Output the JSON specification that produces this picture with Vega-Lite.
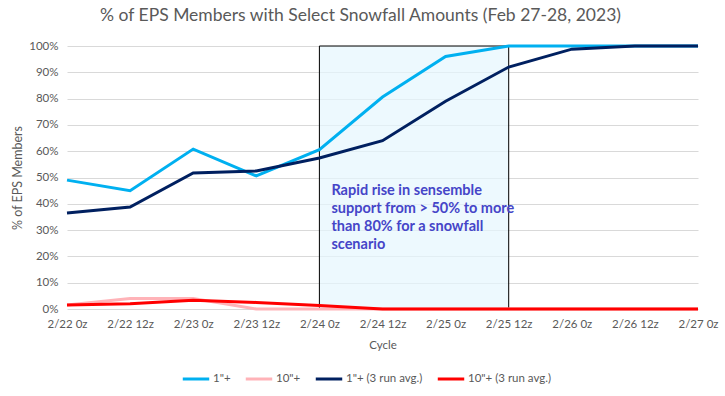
{
  "$schema": "https://vega.github.io/schema/vega-lite/v6.json",
  "autosize": {"type": "none"},
  "width": 631,
  "height": 263,
  "padding": {"left": 67, "top": 46, "right": 27, "bottom": 87},
  "background": "white",
  "config": {
    "font": "Lato",
    "view": {"stroke": null},
    "axis": {"labelColor": "#595959", "titleColor": "#595959", "labelFont": "Lato", "titleFont": "Lato", "labelFontSize": 11.5, "titleFontSize": 11.5, "titleFontWeight": "normal"},
    "legend": {"labelFont": "Lato", "labelColor": "#595959", "labelFontSize": 11.5}
  },
  "title": {"text": "% of EPS Members with Select Snowfall Amounts (Feb 27-28, 2023)", "fontSize": 17.5, "fontWeight": "normal", "color": "#595959", "font": "Lato", "offset": 16, "anchor": "middle", "dx": -22},
  "datasets": {
    "series": [
      {"cycle": "2/22 0z", "series": "1\"+", "value": 49},
      {"cycle": "2/22 12z", "series": "1\"+", "value": 45},
      {"cycle": "2/23 0z", "series": "1\"+", "value": 60.8},
      {"cycle": "2/23 12z", "series": "1\"+", "value": 50.6},
      {"cycle": "2/24 0z", "series": "1\"+", "value": 60.6},
      {"cycle": "2/24 12z", "series": "1\"+", "value": 80.6},
      {"cycle": "2/25 0z", "series": "1\"+", "value": 96},
      {"cycle": "2/25 12z", "series": "1\"+", "value": 100},
      {"cycle": "2/26 0z", "series": "1\"+", "value": 100},
      {"cycle": "2/26 12z", "series": "1\"+", "value": 100},
      {"cycle": "2/27 0z", "series": "1\"+", "value": 100},
      {"cycle": "2/22 0z", "series": "10\"+", "value": 1.5},
      {"cycle": "2/22 12z", "series": "10\"+", "value": 4},
      {"cycle": "2/23 0z", "series": "10\"+", "value": 4},
      {"cycle": "2/23 12z", "series": "10\"+", "value": 0},
      {"cycle": "2/24 0z", "series": "10\"+", "value": 0},
      {"cycle": "2/24 12z", "series": "10\"+", "value": 0},
      {"cycle": "2/25 0z", "series": "10\"+", "value": 0},
      {"cycle": "2/25 12z", "series": "10\"+", "value": 0},
      {"cycle": "2/26 0z", "series": "10\"+", "value": 0},
      {"cycle": "2/26 12z", "series": "10\"+", "value": 0},
      {"cycle": "2/27 0z", "series": "10\"+", "value": 0},
      {"cycle": "2/22 0z", "series": "1\"+ (3 run avg.)", "value": 36.5},
      {"cycle": "2/22 12z", "series": "1\"+ (3 run avg.)", "value": 38.8},
      {"cycle": "2/23 0z", "series": "1\"+ (3 run avg.)", "value": 51.7},
      {"cycle": "2/23 12z", "series": "1\"+ (3 run avg.)", "value": 52.5},
      {"cycle": "2/24 0z", "series": "1\"+ (3 run avg.)", "value": 57.4},
      {"cycle": "2/24 12z", "series": "1\"+ (3 run avg.)", "value": 64},
      {"cycle": "2/25 0z", "series": "1\"+ (3 run avg.)", "value": 79},
      {"cycle": "2/25 12z", "series": "1\"+ (3 run avg.)", "value": 92},
      {"cycle": "2/26 0z", "series": "1\"+ (3 run avg.)", "value": 98.8},
      {"cycle": "2/26 12z", "series": "1\"+ (3 run avg.)", "value": 100},
      {"cycle": "2/27 0z", "series": "1\"+ (3 run avg.)", "value": 100},
      {"cycle": "2/22 0z", "series": "10\"+ (3 run avg.)", "value": 1.5},
      {"cycle": "2/22 12z", "series": "10\"+ (3 run avg.)", "value": 2},
      {"cycle": "2/23 0z", "series": "10\"+ (3 run avg.)", "value": 3.3},
      {"cycle": "2/23 12z", "series": "10\"+ (3 run avg.)", "value": 2.5},
      {"cycle": "2/24 0z", "series": "10\"+ (3 run avg.)", "value": 1.3},
      {"cycle": "2/24 12z", "series": "10\"+ (3 run avg.)", "value": 0},
      {"cycle": "2/25 0z", "series": "10\"+ (3 run avg.)", "value": 0},
      {"cycle": "2/25 12z", "series": "10\"+ (3 run avg.)", "value": 0},
      {"cycle": "2/26 0z", "series": "10\"+ (3 run avg.)", "value": 0},
      {"cycle": "2/26 12z", "series": "10\"+ (3 run avg.)", "value": 0},
      {"cycle": "2/27 0z", "series": "10\"+ (3 run avg.)", "value": 0}
    ],
    "box": [
      {"cycle": "2/24 0z", "cycle_end": "2/25 12z", "value": 0, "value_end": 100}
    ],
    "note": [
      {"cycle": "2/24 0z", "value": 47.5, "label": ["Rapid rise in sensemble", "support from > 50% to more", "than 80% for a snowfall", "scenario"]}
    ]
  },
  "encoding": {
    "x": {
      "field": "cycle", "type": "ordinal",
      "scale": {"type": "point", "padding": 0, "domain": ["2/22 0z", "2/22 12z", "2/23 0z", "2/23 12z", "2/24 0z", "2/24 12z", "2/25 0z", "2/25 12z", "2/26 0z", "2/26 12z", "2/27 0z"]},
      "axis": {"title": "Cycle", "labelAngle": 0, "grid": false, "ticks": false, "domain": false, "labelPadding": 9, "titlePadding": 10, "labelOverlap": false}
    },
    "y": {
      "field": "value", "type": "quantitative",
      "scale": {"domain": [0, 100], "nice": false},
      "axis": {"title": "% of EPS Members", "titleFontSize": 12.5, "values": [0, 10, 20, 30, 40, 50, 60, 70, 80, 90, 100], "labelOverlap": false, "labelExpr": "datum.value + '%'", "grid": true, "gridColor": "#D9D9D9", "domain": false, "ticks": false, "labelPadding": 9, "titlePadding": 4}
    }
  },
  "layer": [
    {
      "data": {"name": "box"},
      "mark": {"type": "rect", "fill": "#E6F6FD", "fillOpacity": 0.7, "stroke": "black", "strokeWidth": 1},
      "encoding": {
        "x2": {"field": "cycle_end"},
        "y2": {"field": "value_end"}
      }
    },
    {
      "data": {"name": "series"},
      "mark": {"type": "line", "strokeWidth": 3},
      "encoding": {
        "color": {
          "field": "series", "type": "nominal",
          "scale": {"domain": ["1\"+", "10\"+", "1\"+ (3 run avg.)", "10\"+ (3 run avg.)"], "range": ["#00B0F0", "#FFB3B8", "#002060", "#FF0000"]},
          "legend": {"title": null, "orient": "none", "direction": "horizontal", "legendX": 114, "legendY": 318, "symbolType": "stroke", "symbolStrokeWidth": 3, "symbolSize": 700, "columnPadding": 8, "labelOffset": 2}
        }
      }
    },
    {
      "data": {"name": "note"},
      "mark": {"type": "text", "align": "left", "baseline": "top", "dx": 12, "fontSize": 14.5, "fontWeight": "bold", "color": "#4545C8", "lineHeight": 18, "font": "Lato"},
      "encoding": {
        "text": {"field": "label"}
      }
    }
  ]
}
